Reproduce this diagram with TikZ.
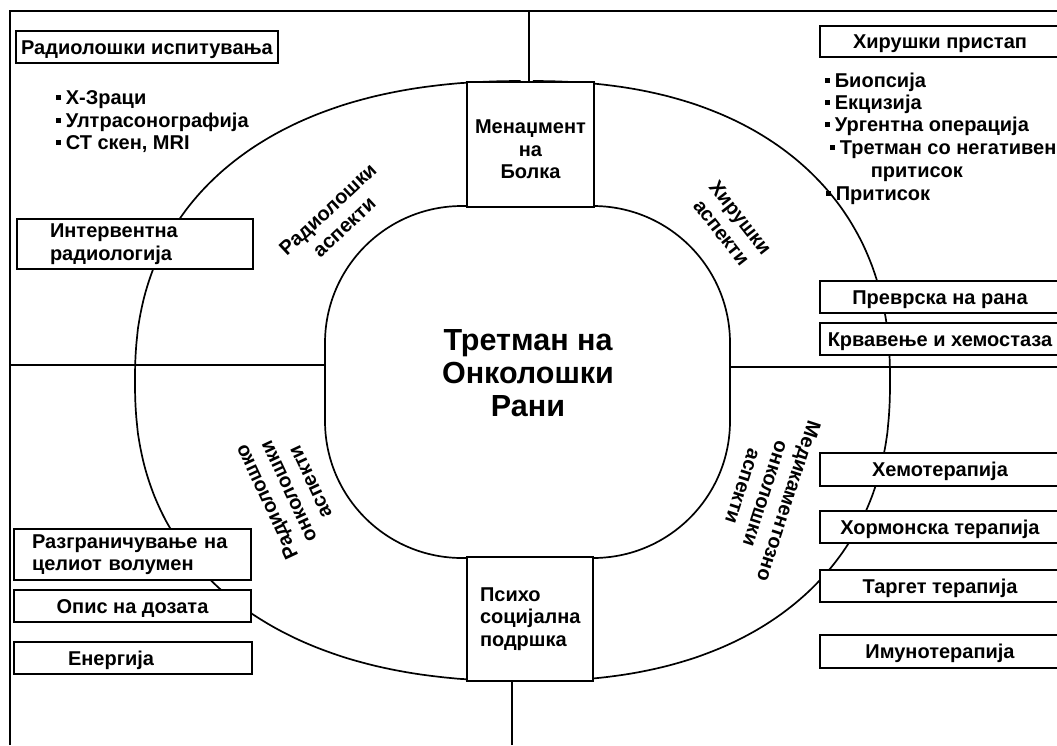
\documentclass[tikz,border=0pt]{standalone}
\usepackage{fontspec}
\setmainfont{Liberation Sans}
\newcommand\sqb{\rule[4.5pt]{5pt}{5pt}\hspace{5pt}}
\begin{document}
\begin{tikzpicture}[x=1pt,y=-1pt,line width=1.7pt,
  every node/.style={font=\fontsize{20}{22.5}\selectfont\bfseries, inner sep=0pt},
  tbox/.style={draw, fill=white, line width=1.6pt},
  one/.style={text height=14pt, text depth=0pt},
  ringlbl/.style={align=center, font=\fontsize{20}{24}\selectfont\bfseries},
  blt/.style={anchor=base west},
  frame/.style={line width=2pt}
]
\clip (0,0) rectangle (1057,745);
\fill[white] (0,0) rectangle (1057,745);

% outer ring
\draw plot[domain=-89.5:89.5, samples=180, smooth] ({527+363*cos(\x)^0.8696},{381-300*sign(sin(\x))*abs(sin(\x))^0.8696});
\draw plot[domain=-89.5:89.5, samples=180, smooth] ({527-392*cos(\x)^0.8696},{381-300*sign(sin(\x))*abs(sin(\x))^0.8696});

% inner ring
\node[draw, rounded corners=137pt, minimum width=405pt, minimum height=352pt] (inner) at (527.5,382) {};

% frame and dividers
\coordinate (ftl) at (10,11);
\coordinate (fbl) at (10,745);
\coordinate (ftr) at (1057,11);
\draw[frame] (fbl) -- (ftl) -- (ftr);
\coordinate (lend) at (10,365);
\draw (lend) -- (lend -| inner.west);
\coordinate (rend) at (1057,367);
\draw (rend) -- (rend -| inner.east);

% ring labels
\node[ringlbl, rotate=43] (lra) at (336,218) {Радиолошки\\аспекти};
\node[ringlbl, rotate=-52] (lha) at (731,225) {Хирушки\\аспекти};
\node[ringlbl, rotate=115] (lro) at (288,492) {Радиолошко\\онколошки\\аспекти};
\node[ringlbl, rotate=-108] (lmo) at (766,494) {Медикаментозно\\онколошки\\аспекти};

% title
\node[align=center, font=\fontsize{30.5}{33}\selectfont\bfseries] (title) at (528,373) {Третман на\\Онколошки\\Рани};

% top / bottom boxes
\node[tbox, minimum width=127pt, minimum height=125pt,
  label={[align=center, yshift=-5pt]center:Менаџмент\\на\\Болка}] (mena) at (530.5,144.5) {};
\node[tbox, minimum width=126pt, minimum height=124pt, text width=100pt, inner xsep=13pt, align=left] (psih) at (530,619) {Психо\\социјална\\подршка};
\coordinate (tv) at (529,11);
\draw (tv) -- (tv |- mena.north);
\coordinate (bv) at (512,745);
\draw (bv) -- (bv |- psih.south);

% left column
\node[tbox, one, minimum width=262pt, minimum height=32pt] (rispit) at (147,47) {Радиолошки испитувања};
\node[blt] (b1) at (55,104) {\sqb Х-Зраци};
\node[blt] (b2) at (55,127) {\sqb Ултрасонографија};
\node[blt] (b3) at (55,149.5) {\sqb СТ скен, MRI};
\node[tbox, minimum width=236pt, minimum height=50pt, text width=170pt, inner xsep=33pt, align=left] (interv) at (135,244) {Интервентна\\радиологија};
\node[tbox, minimum width=237pt, minimum height=51pt, text width=201pt, inner xsep=18pt, align=left] (razg) at (132.5,554.5) {Разграничување на\\целиот волумен};
\node[tbox, one, minimum width=237pt, minimum height=32pt] (opis) at (132.5,606) {Опис на дозата};
\node[tbox, one, minimum width=238pt, minimum height=32pt, text width=130pt, inner xsep=54pt, align=left] (ener) at (133,658) {Енергија};

% right column
\node[tbox, one, minimum width=240pt, minimum height=31pt] (hirp) at (940,41.5) {Хирушки пристап};
\node[blt] (c1) at (824,87) {\sqb Биопсија};
\node[blt] (c2) at (824,109) {\sqb Екцизија};
\node[blt] (c3) at (824,131) {\sqb Ургентна операција};
\node[blt] (c4) at (829,154) {\sqb Третман со негативен};
\node[blt] (c5) at (870,177) {притисок};
\node[blt] (c6) at (825,200) {\sqb Притисок};
\node[tbox, one, minimum width=240pt, minimum height=32pt] (prev) at (940,297) {Преврска на рана};
\node[tbox, one, minimum width=240pt, minimum height=32pt] (krv) at (940,339) {Крвавење и хемостаза};
\node[tbox, one, minimum width=240pt, minimum height=33pt] (hemo) at (940,469.5) {Хемотерапија};
\node[tbox, one, minimum width=240pt, minimum height=32pt] (horm) at (940,527) {Хормонска терапија};
\node[tbox, one, minimum width=240pt, minimum height=32pt] (targ) at (940,586) {Таргет терапија};
\node[tbox, one, minimum width=240pt, minimum height=33pt] (imun) at (940,651.5) {Имунотерапија};
\end{tikzpicture}
\end{document}
